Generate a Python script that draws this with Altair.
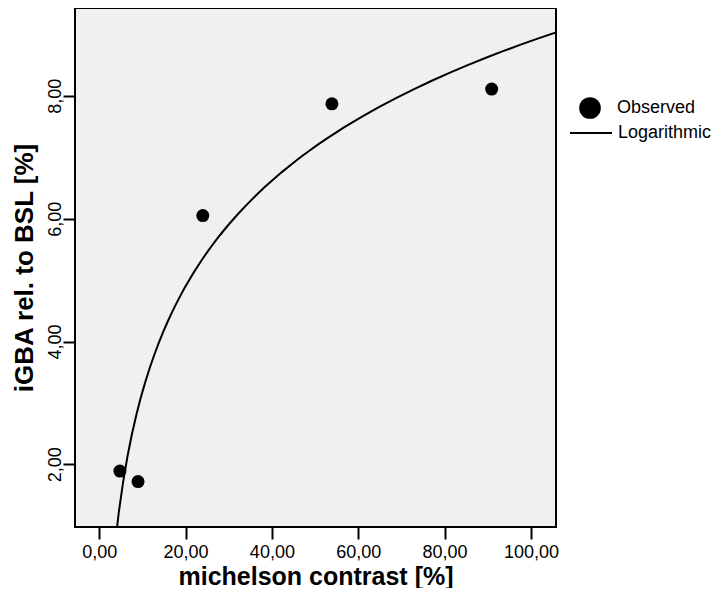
import altair as alt
import pandas as pd

# --- data ---
contrast = [4.8, 9.0, 24.0, 53.9, 90.9]
igba = [1.89, 1.72, 6.05, 7.87, 8.11]
x_ticks = [0, 20, 40, 60, 80, 100]
y_ticks = [2, 4, 6, 8]
series_obs = "Observed"
series_fit = "Logarithmic"

df = pd.DataFrame({"x": contrast, "y": igba, "obs": [series_obs] * len(contrast)})

FONT = "Liberation Sans"
fmt = "replace(format(datum.value, '.2f'), '.', ',')"


def x_enc():
    return alt.X(
        "x:Q",
        scale=alt.Scale(domain=[-5.6, 105.8], nice=False, zero=False),
        axis=alt.Axis(values=x_ticks, labelExpr=fmt, title="michelson contrast [%]",
                      labelPadding=4, titleBaseline="alphabetic", titleY=57,
                      titleFontSize=25),
    )


def y_enc():
    return alt.Y(
        "y:Q",
        scale=alt.Scale(domain=[0.98, 9.43], nice=False, zero=False),
        axis=alt.Axis(values=y_ticks, labelExpr=fmt, title="iGBA rel. to BSL [%]",
                      labelAngle=270, labelAlign="center", labelBaseline="alphabetic",
                      labelPadding=3, titlePadding=9),
    )


fit = (
    alt.Chart(df)
    .transform_regression("x", "y", method="log", extent=[3.5, 105.8])
    .transform_calculate(fit=f"'{series_fit}'")
    .mark_line(color="black", strokeWidth=2, clip=True)
    .encode(
        x=x_enc(),
        y=y_enc(),
        color=alt.Color(
            "fit:N",
            scale=alt.Scale(domain=[series_fit], range=["black"]),
            legend=alt.Legend(title=None, orient="none", legendX=494, legendY=103,
                              symbolType="stroke", symbolSize=1764, symbolStrokeWidth=2,
                              symbolStrokeColor="black", labelOffset=5, labelFont=FONT,
                              labelFontSize=18, labelColor="black", padding=0),
        ),
    )
)

points = (
    alt.Chart(df)
    .mark_point(filled=True, color="black", size=169, opacity=1)
    .encode(
        x=x_enc(),
        y=y_enc(),
        shape=alt.Shape(
            "obs:N",
            scale=alt.Scale(domain=[series_obs], range=["circle"]),
            legend=alt.Legend(title=None, orient="none", legendX=504, legendY=89,
                              symbolSize=470, symbolFillColor="black",
                              symbolStrokeColor="black", symbolStrokeWidth=0,
                              labelOffset=16, labelFont=FONT, labelFontSize=18,
                              labelColor="black", padding=0),
        ),
    )
)

chart = (
    alt.layer(fit, points)
    .properties(
        width=481,
        height=519,
        autosize=alt.AutoSizeParams(type="none"),
        padding={"left": 67, "top": 0, "right": 155, "bottom": 61},
        background="white",
    )
    .configure_view(fill="#f0f0f0", stroke="black", strokeWidth=2)
    .configure_axis(
        domain=False, grid=False, tickColor="black", tickWidth=2, tickSize=12,
        labelFont=FONT, labelFontSize=18, labelColor="black",
        titleFont=FONT, titleFontSize=26, titleFontWeight="bold", titleColor="black",
    )
)

chart.save("out.html", embed_options={"renderer": "svg", "actions": False})
